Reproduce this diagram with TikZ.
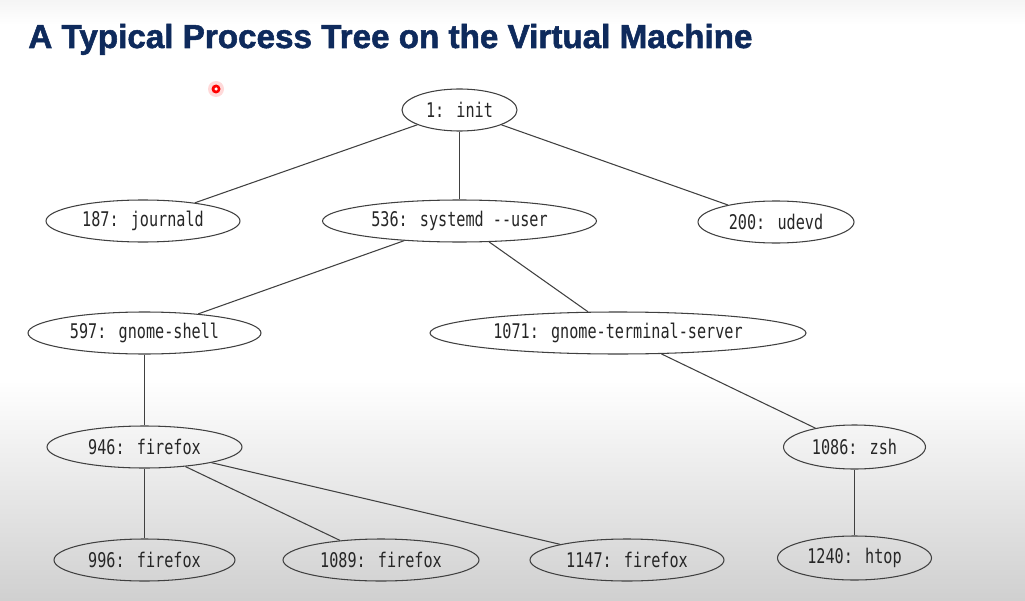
\documentclass[tikz,border=0pt]{standalone}
\usepackage{fontspec}
\usepackage{tikz}
\usepackage{xcolor}
\usetikzlibrary{shapes.geometric, positioning}
\setmainfont{Liberation Sans}
\newfontfamily\titlefont{Liberation Sans}[FakeBold=1.6]
\newfontfamily\procfont{DejaVu Sans Mono}[FakeStretch=0.75]
\definecolor{cTitle}{RGB}{14,42,92}
\definecolor{cLine}{RGB}{64,64,64}
\definecolor{cShade}{RGB}{208,208,208}
\tikzset{
	proc/.style ={ellipse, draw=cLine, line width=0.6pt, minimum height=0.84cm, inner sep=0pt, font=\procfont\fontsize{11.5}{13}\selectfont, text=black!85},
	edge/.style ={draw=cLine, line width=0.6pt},
	title/.style={font=\titlefont\bfseries\fontsize{18.9}{22}\selectfont, text=cTitle, inner sep=0pt},
}
\begin{document}
\begin{tikzpicture}
	% slide background
	\useasboundingbox (0,0) rectangle (20.5,12);
	\fill[white] (0,0) rectangle (20.5,12);
	\shade[top color=white, bottom color=cShade] (0,0) rectangle (20.5,4.4);
	\shade[top color=black!4, bottom color=white] (0,11.5) rectangle (20.5,12);
	\node[title, anchor=base west] (title) at (0.56,11.04) {A Typical Process Tree on the Virtual Machine};
	% pointer
	\fill[red!15] (4.32,10.22) circle (0.16);
	\fill[red] (4.32,10.22) circle (0.09);
	\fill[white] (4.32,10.22) circle (0.035);
	% processes
	\node[proc, minimum width=2.30cm] (init)     at (9.19,9.80) {1: init};
	\node[proc, minimum width=3.88cm] (journald) at (2.86,7.58) {187: journald};
	\node[proc, minimum width=5.48cm] (systemd)  at (9.19,7.58) {536: systemd -{}-user};
	\node[proc, minimum width=3.12cm] (udevd)    at (15.52,7.56) {200: udevd};
	\node[proc, minimum width=4.66cm] (gshell)   at (2.89,5.34) {597: gnome-shell};
	\node[proc, minimum width=7.52cm] (gterm)    at (12.36,5.34) {1071: gnome-terminal-server};
	\node[proc, minimum width=3.90cm] (ff946)    at (2.89,3.06) {946: firefox};
	\node[proc, minimum width=2.84cm, minimum height=0.88cm] (zsh) at (17.09,3.06) {1086: zsh};
	\node[proc, minimum width=3.62cm] (ff996)    at (2.89,0.80) {996: firefox};
	\node[proc, minimum width=3.92cm] (ff1089)   at (7.62,0.80) {1089: firefox};
	\node[proc, minimum width=3.88cm] (ff1147)   at (12.54,0.80) {1147: firefox};
	\node[proc, minimum width=3.08cm, minimum height=0.88cm] (htop) at (17.09,0.84) {1240: htop};
	% parent -> child
	\foreach \p/\c in {init/journald, init/systemd, init/udevd, systemd/gshell, systemd/gterm,
		gshell/ff946, gterm/zsh, ff946/ff996, ff946/ff1089, ff946/ff1147, zsh/htop} {
		\draw[edge] (\p) -- (\c);
	}
\end{tikzpicture}
\end{document}
